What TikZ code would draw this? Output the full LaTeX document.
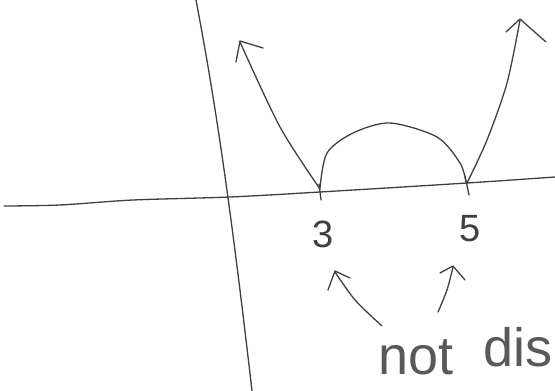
\documentclass[tikz,border=0pt]{standalone}
\usepackage{fontspec}
\setmainfont{Liberation Sans}
\begin{document}
\begin{tikzpicture}[x=1pt,y=-1pt,
  pen/.style={draw=black!75, line width=1.3pt, line cap=round, line join=round},
  lbl/.style={text=black!75, font=\fontsize{38}{38}\selectfont, inner sep=0pt},
  hand/.style={text=black!65, font=\fontsize{54}{54}\selectfont, inner sep=0pt, anchor=base west}]
\useasboundingbox (0,0) rectangle (555,391);
\clip (0,0) rectangle (555,391);
\fill[white] (0,0) rectangle (555,391);
% axes
\draw[pen] (196,0) .. controls (215,100) and (230,200) .. (252,391);
\draw[pen] plot[smooth] coordinates {(4,206) (60,205) (133,200) (230,197) (320,192) (467,183) (555,177)};
% ticks
\draw[pen] (319,184) -- (321,200);
\draw[pen] (465,176) -- (469,195);
% left arrow
\draw[pen] plot[smooth] coordinates {(320,189) (280,127) (240,42)};
\draw[pen] (236,62) -- (240,41) -- (263,48);
% right curve
\draw[pen] plot[smooth] coordinates {(467,183) (487,140) (507,83) (520,20)};
\draw[pen] (506,32) -- (520,19) -- (546,42);
% arc
\draw[pen] plot[smooth] coordinates {(320,188) (327,153) (353,133) (390,123) (437,137) (460,163) (466,182)};
% labels
\node[lbl] (l3) at (323,234) {3};
\node[lbl] (l5) at (470,229) {5};
% small arrows
\draw[pen] plot[smooth] coordinates {(382,326) (355,300) (335,272)};
\draw[pen] (328,290) -- (335,271) -- (350,278);
\draw[pen] plot[smooth] coordinates {(438,312) (447,290) (453,267)};
\draw[pen] (440,273) -- (453,266) -- (465,280);
% text
\node[hand] (t1) at (378,374) {not};
\node[hand] (t2) at (483,366) {dis};
\end{tikzpicture}
\end{document}
